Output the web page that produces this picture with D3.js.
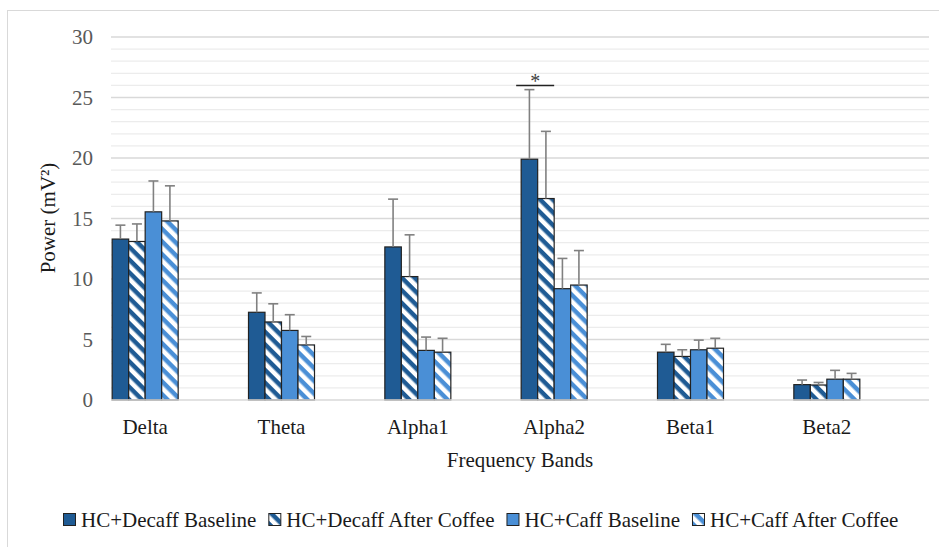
<!DOCTYPE html>
<html>
<head>
<meta charset="utf-8">
<script src="https://cdn.jsdelivr.net/npm/d3@7"></script>
<style>
  html, body { margin: 0; padding: 0; background: #fff; }
  svg { display: block; }
  svg text { font-family: "Liberation Serif", "Times New Roman", serif; }
</style>
</head>
<body>
<div id="chart"></div>
<script>
const bands = ["Delta", "Theta", "Alpha1", "Alpha2", "Beta1", "Beta2"];
const seriesNames = [
  "HC+Decaff Baseline",
  "HC+Decaff After Coffee",
  "HC+Caff Baseline",
  "HC+Caff After Coffee",
];
// mean power per band, one array per series
const decaffBase = [13.3, 7.25, 12.65, 19.9, 3.95, 1.27];
const decaffAfter = [13.1, 6.45, 10.2, 16.65, 3.6, 1.24];
const caffBase = [15.55, 5.75, 4.1, 9.2, 4.15, 1.72];
const caffAfter = [14.8, 4.55, 3.95, 9.5, 4.28, 1.72];
// upper end of the error bars
const decaffBaseErr = [14.45, 8.85, 16.6, 25.65, 4.6, 1.65];
const decaffAfterErr = [14.55, 7.95, 13.65, 22.2, 4.15, 1.45];
const caffBaseErr = [18.1, 7.05, 5.2, 11.7, 4.95, 2.45];
const caffAfterErr = [17.7, 5.25, 5.1, 12.35, 5.1, 2.2];
const yTicks = [0, 5, 10, 15, 20, 25, 30];
const significance = [{ band: "Alpha2", from: 0, to: 1, value: 26, label: "*" }];

const dark = "#1f5b94";
const light = "#4a8fd6";
const series = [
  { name: seriesNames[0], values: decaffBase, err: decaffBaseErr, color: dark, hatch: false },
  { name: seriesNames[1], values: decaffAfter, err: decaffAfterErr, color: dark, hatch: true },
  { name: seriesNames[2], values: caffBase, err: caffBaseErr, color: light, hatch: false },
  { name: seriesNames[3], values: caffAfter, err: caffAfterErr, color: light, hatch: true },
];
const fillOf = (s) => (s.hatch ? `url(#${s.color === dark ? "hatch-dark" : "hatch-light"})` : s.color);

const W = 939, H = 547;
const svg = d3.select("#chart").append("svg").attr("width", W).attr("height", H);

// hatch patterns (wide downward diagonal)
const defs = svg.append("defs");
[["hatch-dark", dark], ["hatch-light", light]].forEach(([id, c]) => {
  const p = defs.append("pattern")
    .attr("id", id)
    .attr("patternUnits", "userSpaceOnUse")
    .attr("width", 9).attr("height", 9)
    .attr("patternTransform", "rotate(45)");
  p.append("rect").attr("width", 9).attr("height", 9).attr("fill", "#fff");
  p.append("rect").attr("width", 9).attr("height", 4.5).attr("fill", c);
});

// outer frame
svg.append("rect")
  .attr("x", 7.5).attr("y", 10.5).attr("width", 960).attr("height", 560)
  .attr("fill", "none").attr("stroke", "#d9d9d9");

const gridX0 = 111, gridX1 = 929;
const y = d3.scaleLinear().domain([0, 30]).range([400, 37]);
const x = d3.scaleBand().domain(bands).range([77, 895]);
const xs = d3.scaleBand().domain(d3.range(series.length)).range([-33, 33]);

// gridlines: minor every 1, major every 5
svg.append("g")
  .selectAll("line")
  .data(d3.range(1, 31))
  .join("line")
  .attr("x1", gridX0).attr("x2", gridX1)
  .attr("y1", (d) => y(d)).attr("y2", (d) => y(d))
  .attr("stroke", (d) => (d % 5 === 0 ? "#d9d9d9" : "#ececec"))
  .attr("stroke-width", 1.3);

// y axis labels
const yAxis = d3.axisLeft(y).tickValues(yTicks).tickSize(0).tickPadding(0);
const yg = svg.append("g").attr("transform", `translate(93,0)`).call(yAxis);
yg.attr("font-family", null);
yg.select(".domain").remove();
yg.selectAll("text")
  .attr("fill", "#595959")
  .style("font-size", "21px");

// bars
const groups = svg.append("g")
  .selectAll("g")
  .data(series)
  .join("g");

groups.selectAll("rect")
  .data((s, si) => bands.map((b, i) => ({ b, v: s.values[i], si, s })))
  .join("rect")
  .attr("x", (d) => x(d.b) + x.bandwidth() / 2 + xs(d.si))
  .attr("width", xs.bandwidth())
  .attr("y", (d) => y(d.v))
  .attr("height", (d) => y(0) - y(d.v))
  .attr("fill", (d) => fillOf(d.s))
  .attr("stroke", "#222")
  .attr("stroke-width", 1.2);

// baseline
svg.append("line")
  .attr("x1", gridX0).attr("x2", gridX1)
  .attr("y1", y(0)).attr("y2", y(0))
  .attr("stroke", "#d9d9d9").attr("stroke-width", 1.5);

// error bars (upper only)
const errs = [];
series.forEach((s, si) => bands.forEach((b, i) => errs.push({ b, si, v: s.values[i], e: s.err[i] })));
const cx = (d) => x(d.b) + x.bandwidth() / 2 + xs(d.si) + xs.bandwidth() / 2;
const eg = svg.append("g").attr("stroke", "#808080").attr("stroke-width", 1.6);
eg.selectAll(".stem")
  .data(errs)
  .join("line")
  .attr("class", "stem")
  .attr("x1", cx).attr("x2", cx)
  .attr("y1", (d) => y(d.v)).attr("y2", (d) => y(d.e));
eg.selectAll(".cap")
  .data(errs)
  .join("line")
  .attr("class", "cap")
  .attr("x1", (d) => cx(d) - 5).attr("x2", (d) => cx(d) + 5)
  .attr("y1", (d) => y(d.e)).attr("y2", (d) => y(d.e));

// significance marker
significance.forEach((m) => {
  const x1 = x(m.band) + x.bandwidth() / 2 + xs(m.from) - 5;
  const x2 = x(m.band) + x.bandwidth() / 2 + xs(m.to) + xs.bandwidth();
  svg.append("line")
    .attr("x1", x1).attr("x2", x2)
    .attr("y1", y(m.value)).attr("y2", y(m.value))
    .attr("stroke", "#222").attr("stroke-width", 1.5);
  svg.append("text")
    .attr("x", (x1 + x2) / 2).attr("y", y(m.value) + 3)
    .attr("text-anchor", "middle")
    .attr("fill", "#404040")
    .style("font-size", "20px")
    .text(m.label);
});

// category labels
const xAxis = d3.axisBottom(x).tickSize(0).tickPadding(0);
const xg = svg.append("g").attr("transform", `translate(0,419)`).call(xAxis);
xg.attr("font-family", null);
xg.select(".domain").remove();
xg.selectAll("text")
  .attr("fill", "#1a1a1a")
  .attr("dy", "0.71em")
  .style("font-size", "21px");

// axis titles
svg.append("text")
  .attr("x", 520).attr("y", 467)
  .attr("text-anchor", "middle")
  .attr("fill", "#1a1a1a")
  .style("font-size", "21px")
  .text("Frequency Bands");

svg.append("text")
  .attr("transform", "translate(55,218) rotate(-90)")
  .attr("text-anchor", "middle")
  .attr("fill", "#1a1a1a")
  .style("font-size", "21px")
  .text("Power (mV²)");

// legend
const legend = svg.append("g").attr("transform", "translate(63,520)");
let lx = 0;
series.forEach((s) => {
  const g = legend.append("g").attr("transform", `translate(${lx},0)`);
  g.append("rect")
    .attr("x", 0.5).attr("y", -6.5).attr("width", 12).attr("height", 12)
    .attr("fill", fillOf(s))
    .attr("stroke", "#222").attr("stroke-width", 1);
  const t = g.append("text")
    .attr("x", 18).attr("y", 7)
    .attr("fill", "#1a1a1a")
    .style("font-size", "21px")
    .text(s.name);
  lx += 18 + t.node().getComputedTextLength() + 12;
});
</script>
</body>
</html>
